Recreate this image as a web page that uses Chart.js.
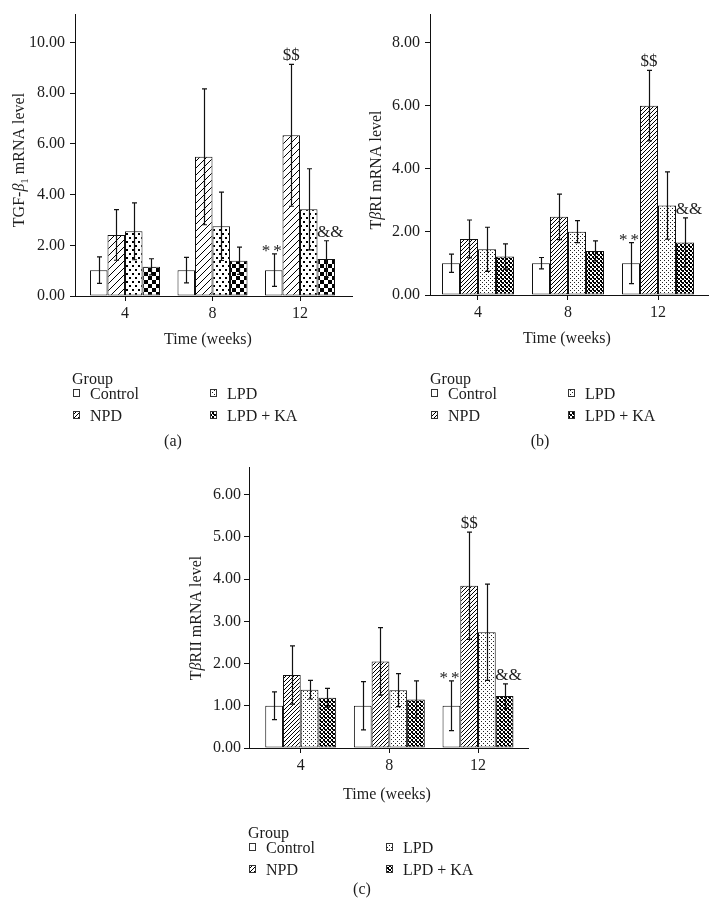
<!DOCTYPE html>
<html><head><meta charset="utf-8">
<script src="https://cdn.jsdelivr.net/npm/chart.js@4.4.1/dist/chart.umd.min.js"></script>
<style>
html,body{margin:0;padding:0;background:#fff;}
#wrap{position:relative;width:717px;height:914px;overflow:hidden;background:#fff;}
canvas{position:absolute;}
</style></head><body>
<div id="wrap">
<canvas id="ca" width="360" height="455" style="left:0;top:0;width:360px;height:455px"></canvas>
<canvas id="cb" width="357" height="455" style="left:360px;top:0;width:357px;height:455px"></canvas>
<canvas id="cc" width="370" height="459" style="left:175px;top:455px;width:370px;height:459px"></canvas>
</div>
<script>
// ---------------- data ----------------
const weeks = [4, 8, 12];
const groupNames = ['Control', 'NPD', 'LPD', 'LPD + KA'];
const week12Marks = ['**', '$$', '', '&&'];

// (a) TGF-beta1 mRNA level
const tgfControl    = [1.02, 1.02, 1.02];
const tgfControlErr = [0.52, 0.50, 0.64];
const tgfNPD        = [2.41, 5.49, 6.34];
const tgfNPDErr     = [1.00, 2.68, 2.80];
const tgfLPD        = [2.55, 2.75, 3.42];
const tgfLPDErr     = [1.12, 1.35, 1.60];
const tgfKA         = [1.15, 1.39, 1.46];
const tgfKAErr      = [0.32, 0.54, 0.72];

// (b) TbetaRI mRNA level
const r1Control    = [1.01, 1.01, 1.01];
const r1ControlErr = [0.29, 0.18, 0.65];
const r1NPD        = [1.78, 2.48, 6.01];
const r1NPDErr     = [0.60, 0.72, 1.12];
const r1LPD        = [1.45, 2.01, 2.84];
const r1LPDErr     = [0.70, 0.35, 1.07];
const r1KA         = [1.22, 1.40, 1.67];
const r1KAErr      = [0.40, 0.32, 0.78];

// (c) TbetaRII mRNA level
const r2Control    = [1.00, 1.00, 1.00];
const r2ControlErr = [0.33, 0.57, 0.59];
const r2NPD        = [1.73, 2.05, 3.84];
const r2NPDErr     = [0.69, 0.80, 1.27];
const r2LPD        = [1.38, 1.37, 2.74];
const r2LPDErr     = [0.22, 0.39, 1.14];
const r2KA         = [1.19, 1.15, 1.23];
const r2KAErr      = [0.22, 0.44, 0.29];

// ---------------- styling ----------------
const FAMILY = "'Liberation Serif', 'DejaVu Serif', serif";
const INK = '#1c1c1c';
const FONT = {family: FAMILY, size: 16};

const dummy = document.createElement('canvas').getContext('2d');
function tile(w, h, draw) {
  const c = document.createElement('canvas');
  c.width = w; c.height = h;
  const g = c.getContext('2d');
  g.fillStyle = '#fff'; g.fillRect(0, 0, w, h);
  g.fillStyle = '#000'; g.strokeStyle = '#000';
  draw(g, w, h);
  return dummy.createPattern(c, 'repeat');
}
function hatch(s, lw) {
  return tile(s, s, (g) => {
    g.lineWidth = lw; g.beginPath();
    g.moveTo(-1, s + 1); g.lineTo(s + 1, -1);
    g.moveTo(-1, 1); g.lineTo(1, -1);
    g.moveTo(s - 1, s + 1); g.lineTo(s + 1, s - 1);
    g.stroke();
  });
}
const coarse = [
  '#ffffff',
  hatch(7, 1),
  tile(6, 8, g => { g.fillRect(0, 1, 2, 2); g.fillRect(3, 5, 2, 2); }),
  tile(8, 8, g => { g.fillRect(0, 0, 4, 4); g.fillRect(4, 4, 4, 4); })
];
const fine = [
  '#ffffff',
  hatch(4, 1),
  tile(4, 4, g => { g.fillStyle = '#222'; g.fillRect(0, 0, 1, 1); g.fillRect(2, 2, 1, 1); }),
  tile(4, 4, g => { g.fillRect(0, 0, 2, 2); g.fillRect(2, 2, 2, 2); g.fillRect(1, 2, 1, 1); })
];

function drawRich(ctx, segs, cx, cy, rotate) {
  ctx.save();
  ctx.translate(cx, cy);
  if (rotate) ctx.rotate(-Math.PI / 2);
  ctx.fillStyle = INK;
  ctx.textBaseline = 'alphabetic';
  ctx.textAlign = 'left';
  const fontFor = s => (s.italic ? 'italic ' : '') + (s.sub ? 11 : 16) + 'px ' + FAMILY;
  let total = 0;
  const ws = segs.map(s => { ctx.font = fontFor(s); const w = ctx.measureText(s.t).width; total += w; return w; });
  let x = -total / 2;
  segs.forEach((s, i) => { ctx.font = fontFor(s); ctx.fillText(s.t, x, 5.5 + (s.sub ? 4 : 0)); x += ws[i]; });
  ctx.restore();
}

const decorPlugin = {
  id: 'decor',
  afterDatasetsDraw(chart) {
    const ctx = chart.ctx;
    const y = chart.scales.y;
    ctx.save();
    ctx.strokeStyle = '#111';
    ctx.lineWidth = 1.2;
    chart.data.datasets.forEach((ds, i) => {
      const meta = chart.getDatasetMeta(i);
      meta.data.forEach((bar, j) => {
        const v = ds.data[j].y, e = ds.errors[j];
        const x = Math.round(bar.x) + 0.5;
        const yt = y.getPixelForValue(v + e), yb = y.getPixelForValue(v - e);
        ctx.beginPath();
        ctx.moveTo(x, yt); ctx.lineTo(x, yb);
        ctx.moveTo(x - 2.5, yt); ctx.lineTo(x + 2.5, yt);
        ctx.moveTo(x - 2.5, yb); ctx.lineTo(x + 2.5, yb);
        ctx.stroke();
      });
    });
    ctx.restore();
  },
  afterDraw(chart, args, opts) {
    const ctx = chart.ctx;
    const y = chart.scales.y;
    ctx.save();
    ctx.fillStyle = INK;
    ctx.textBaseline = 'alphabetic';
    chart.data.datasets.forEach((ds, i) => {
      const txt = week12Marks[i];
      if (!txt) return;
      const j = weeks.length - 1;
      const bar = chart.getDatasetMeta(i).data[j];
      const top = y.getPixelForValue(ds.data[j].y + ds.errors[j]);
      if (txt === '**') {
        ctx.font = '17px ' + FAMILY;
        ctx.textAlign = 'left';
        ctx.letterSpacing = '3px';
        const w = ctx.measureText(txt).width - 3;
        ctx.fillText(txt, bar.x - w / 2 - 2, top + 2);
        ctx.letterSpacing = '0px';
      } else {
        ctx.font = '17px ' + FAMILY;
        ctx.textAlign = 'center';
        ctx.fillText(txt, bar.x + (txt === '&&' ? 4 : 0), top - 4);
      }
    });
    ctx.restore();
    drawRich(ctx, opts.yTitle, opts.yTitlePos[0], opts.yTitlePos[1], true);
    drawRich(ctx, [{t: 'Time (weeks)'}], opts.xTitlePos[0], opts.xTitlePos[1], false);
    const lx = opts.legend[0], ly = opts.legend[1];
    ctx.save();
    ctx.fillStyle = INK;
    ctx.font = '16px ' + FAMILY;
    ctx.textAlign = 'left';
    ctx.textBaseline = 'alphabetic';
    ctx.fillText('Group', lx, ly + 5.5);
    chart.data.datasets.forEach((ds, i) => {
      const col = Math.floor(i / 2), row = i % 2;
      const mx = lx + 1 + col * 137;
      const my = ly + 15 + row * 22;
      ctx.fillStyle = fine[i];
      ctx.fillRect(mx, my - 3, 6, 6);
      ctx.strokeStyle = '#333';
      ctx.lineWidth = 1;
      ctx.strokeRect(mx + 0.5, my - 3.5, 6, 7);
      ctx.fillStyle = INK;
      ctx.fillText(ds.label, mx + 17, my + 5.5);
    });
    ctx.restore();
    drawRich(ctx, [{t: opts.caption}], opts.captionPos[0], opts.captionPos[1], false);
  }
};

function makeChart(id, cfg) {
  const series = cfg.series;
  return new Chart(document.getElementById(id), {
    type: 'bar',
    data: {
      datasets: series.map((s, i) => ({
        label: groupNames[i],
        data: weeks.map((w, j) => ({x: w, y: s[0][j]})),
        errors: s[1],
        backgroundColor: cfg.patterns[i],
        borderColor: '#111',
        borderWidth: 1,
        borderSkipped: false,
        categoryPercentage: 0.8,
        barPercentage: 1.0
      }))
    },
    options: {
      responsive: false,
      animation: false,
      events: [],
      layout: {padding: cfg.padding},
      plugins: {
        legend: {display: false},
        tooltip: {enabled: false},
        decor: cfg.decor
      },
      scales: {
        x: {
          type: 'linear',
          offset: false,
          min: cfg.xMin, max: cfg.xMax,
          afterBuildTicks: s => { s.ticks = weeks.map(v => ({value: v})); },
          afterFit: s => { s.height = cfg.xHeight; },
          ticks: {callback: v => String(v), font: FONT, color: INK, padding: 3, maxRotation: 0, autoSkip: false},
          grid: {display: true, offset: false, drawOnChartArea: false, drawTicks: true, tickLength: 5, color: '#111', lineWidth: 1},
          border: {display: true, color: '#111', width: 1}
        },
        y: {
          min: 0, max: cfg.yMax,
          afterFit: s => { s.width = cfg.yWidth; },
          ticks: {stepSize: cfg.step, includeBounds: false, callback: v => v.toFixed(2), font: FONT, color: INK, padding: cfg.yPad},
          grid: {display: true, drawOnChartArea: false, drawTicks: true, tickLength: 5, color: '#111', lineWidth: 1},
          border: {display: true, color: '#111', width: 1}
        }
      }
    },
    plugins: [decorPlugin]
  });
}

makeChart('ca', {
  series: [[tgfControl, tgfControlErr], [tgfNPD, tgfNPDErr], [tgfLPD, tgfLPDErr], [tgfKA, tgfKAErr]],
  patterns: coarse,
  padding: {left: 0, top: 12, right: 8, bottom: 0},
  xMin: 1.714, xMax: 14.377, xHeight: 159,
  yMax: 11.1, step: 2, yWidth: 75, yPad: 5,
  decor: {
    yTitle: [{t: 'TGF-'}, {t: 'β', italic: true}, {t: '1', sub: true}, {t: ' mRNA level'}],
    yTitlePos: [18, 160], xTitlePos: [208, 338], legend: [72, 378],
    caption: '(a)', captionPos: [173, 440]
  }
});

makeChart('cb', {
  series: [[r1Control, r1ControlErr], [r1NPD, r1NPDErr], [r1LPD, r1LPDErr], [r1KA, r1KAErr]],
  patterns: fine,
  padding: {left: 0, top: 10, right: 9, bottom: 0},
  xMin: 1.867, xMax: 14.222, xHeight: 160,
  yMax: 8.9, step: 2, yWidth: 70, yPad: 5,
  decor: {
    yTitle: [{t: 'T'}, {t: 'β', italic: true}, {t: 'RI mRNA level'}],
    yTitlePos: [15, 170], xTitlePos: [207, 337], legend: [70, 378],
    caption: '(b)', captionPos: [180, 440]
  }
});

makeChart('cc', {
  series: [[r2Control, r2ControlErr], [r2NPD, r2NPDErr], [r2LPD, r2LPDErr], [r2KA, r2KAErr]],
  patterns: fine,
  padding: {left: 0, top: 10, right: 17, bottom: 0},
  xMin: 1.667, xMax: 14.256, xHeight: 166,
  yMax: 6.64, step: 1, yWidth: 74, yPad: 3,
  decor: {
    yTitle: [{t: 'T'}, {t: 'β', italic: true}, {t: 'RII mRNA level'}],
    yTitlePos: [20, 163], xTitlePos: [212, 338], legend: [73, 377],
    caption: '(c)', captionPos: [187, 433]
  }
});
</script>
</body></html>
